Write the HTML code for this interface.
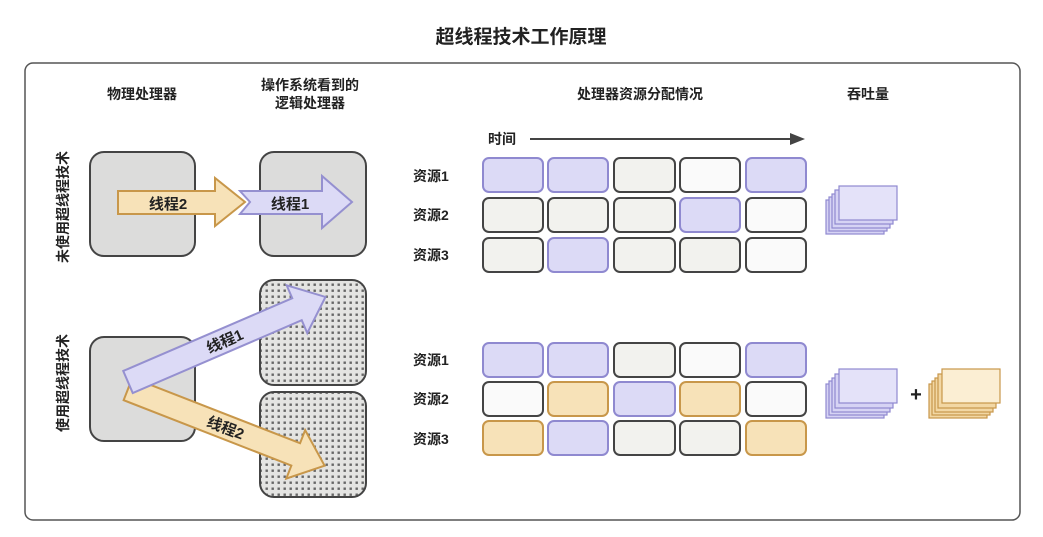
<!DOCTYPE html>
<html><head><meta charset="utf-8"><style>
body{margin:0;background:#fff;}
svg text{font-family:"Liberation Sans","Noto Sans CJK SC",sans-serif;fill:#222;font-weight:bold;}
</style></head><body>
<svg width="1043" height="532" viewBox="0 0 1043 532" xmlns="http://www.w3.org/2000/svg">
<defs>
<pattern id="dots" width="6" height="6" patternUnits="userSpaceOnUse">
<rect width="6" height="6" fill="#e4e4e2"/>
<rect x="1.5" y="1.5" width="2.4" height="2.4" fill="#666"/>
</pattern>
</defs>
<text x="521" y="43" font-size="19" text-anchor="middle">超线程技术工作原理</text>
<rect x="25" y="63" width="995" height="457" rx="8" fill="#fff" stroke="#555" stroke-width="1.5"/>

<text x="142" y="99" font-size="14" text-anchor="middle">物理处理器</text>
<text x="310" y="90" font-size="14" text-anchor="middle">操作系统看到的</text>
<text x="310" y="108" font-size="14" text-anchor="middle">逻辑处理器</text>
<text x="640" y="99" font-size="14" text-anchor="middle">处理器资源分配情况</text>
<text x="868" y="99" font-size="14" text-anchor="middle">吞吐量</text>

<text transform="translate(68,207) rotate(-90)" font-size="14" text-anchor="middle">未使用超线程技术</text>
<text transform="translate(68,383) rotate(-90)" font-size="14" text-anchor="middle">使用超线程技术</text>

<rect x="90" y="152" width="105" height="104" rx="14" fill="#dcdcdb" stroke="#444" stroke-width="2"/>
<rect x="260" y="152" width="106" height="104" rx="14" fill="#dcdcdb" stroke="#444" stroke-width="2"/>
<polygon points="118,191 215,191 215,178 245,202 215,226 215,214 118,214" fill="#f7e2b8" stroke="#c8974a" stroke-width="2"/>
<polygon points="240,191 322,191 322,176 352,202 322,228 322,214 240,214 250,202" fill="#dcdaf6" stroke="#9590d0" stroke-width="2"/>
<text x="168" y="209" font-size="15" text-anchor="middle">线程2</text>
<text x="290" y="209" font-size="15" text-anchor="middle">线程1</text>

<rect x="90" y="337" width="105" height="104" rx="14" fill="#dcdcdb" stroke="#444" stroke-width="2"/>
<rect x="260" y="280" width="106" height="105" rx="14" fill="url(#dots)" stroke="#444" stroke-width="2"/>
<rect x="260" y="392" width="106" height="105" rx="14" fill="url(#dots)" stroke="#444" stroke-width="2"/>
<g transform="translate(128,389) rotate(21.3)">
<polygon points="0,-12 180,-12 180,-26 211,0 180,26 180,12 0,12" fill="#f7e2b8" stroke="#c8974a" stroke-width="2"/>
<text x="105" y="6" font-size="15" text-anchor="middle">线程2</text>
</g>
<g transform="translate(128,382) rotate(-23.3)">
<polygon points="0,-12 184,-12 184,-26 215,0 184,26 184,12 0,12" fill="#dcdaf6" stroke="#9590d0" stroke-width="2"/>
<text x="105" y="6" font-size="15" text-anchor="middle">线程1</text>
</g>

<text x="488" y="144" font-size="14">时间</text>
<line x1="530" y1="139" x2="792" y2="139" stroke="#444" stroke-width="2"/>
<polygon points="790,133 805,139 790,145" fill="#444"/>

<g font-size="14">
<text x="413" y="181">资源1</text><text x="413" y="220">资源2</text><text x="413" y="260">资源3</text>
<text x="413" y="365">资源1</text><text x="413" y="404">资源2</text><text x="413" y="444">资源3</text>
</g>

<g stroke-width="2">
<rect x="483" y="158" width="60" height="34" rx="6" fill="#dcdaf6" stroke="#8f89d0"/>
<rect x="548" y="158" width="60" height="34" rx="6" fill="#dcdaf6" stroke="#8f89d0"/>
<rect x="614" y="158" width="61" height="34" rx="6" fill="#f2f2ee" stroke="#444"/>
<rect x="680" y="158" width="60" height="34" rx="6" fill="#fafafa" stroke="#444"/>
<rect x="746" y="158" width="60" height="34" rx="6" fill="#dcdaf6" stroke="#8f89d0"/>

<rect x="483" y="198" width="60" height="34" rx="6" fill="#f2f2ee" stroke="#444"/>
<rect x="548" y="198" width="60" height="34" rx="6" fill="#f2f2ee" stroke="#444"/>
<rect x="614" y="198" width="61" height="34" rx="6" fill="#f2f2ee" stroke="#444"/>
<rect x="680" y="198" width="60" height="34" rx="6" fill="#dcdaf6" stroke="#8f89d0"/>
<rect x="746" y="198" width="60" height="34" rx="6" fill="#fafafa" stroke="#444"/>

<rect x="483" y="238" width="60" height="34" rx="6" fill="#f2f2ee" stroke="#444"/>
<rect x="548" y="238" width="60" height="34" rx="6" fill="#dcdaf6" stroke="#8f89d0"/>
<rect x="614" y="238" width="61" height="34" rx="6" fill="#f2f2ee" stroke="#444"/>
<rect x="680" y="238" width="60" height="34" rx="6" fill="#f2f2ee" stroke="#444"/>
<rect x="746" y="238" width="60" height="34" rx="6" fill="#fafafa" stroke="#444"/>

<rect x="483" y="343" width="60" height="34" rx="6" fill="#dcdaf6" stroke="#8f89d0"/>
<rect x="548" y="343" width="60" height="34" rx="6" fill="#dcdaf6" stroke="#8f89d0"/>
<rect x="614" y="343" width="61" height="34" rx="6" fill="#f2f2ee" stroke="#444"/>
<rect x="680" y="343" width="60" height="34" rx="6" fill="#fafafa" stroke="#444"/>
<rect x="746" y="343" width="60" height="34" rx="6" fill="#dcdaf6" stroke="#8f89d0"/>

<rect x="483" y="382" width="60" height="34" rx="6" fill="#fafafa" stroke="#444"/>
<rect x="548" y="382" width="60" height="34" rx="6" fill="#f7e2b8" stroke="#c8974a"/>
<rect x="614" y="382" width="61" height="34" rx="6" fill="#dcdaf6" stroke="#8f89d0"/>
<rect x="680" y="382" width="60" height="34" rx="6" fill="#f7e2b8" stroke="#c8974a"/>
<rect x="746" y="382" width="60" height="34" rx="6" fill="#fafafa" stroke="#444"/>

<rect x="483" y="421" width="60" height="34" rx="6" fill="#f7e2b8" stroke="#c8974a"/>
<rect x="548" y="421" width="60" height="34" rx="6" fill="#dcdaf6" stroke="#8f89d0"/>
<rect x="614" y="421" width="61" height="34" rx="6" fill="#f2f2ee" stroke="#444"/>
<rect x="680" y="421" width="60" height="34" rx="6" fill="#f2f2ee" stroke="#444"/>
<rect x="746" y="421" width="60" height="34" rx="6" fill="#f7e2b8" stroke="#c8974a"/>
</g>

<g stroke-width="1.2">
<g fill="#d6d3f4" stroke="#8f89d0">
<rect x="826" y="200" width="58" height="34"/><rect x="829" y="197" width="58" height="34"/><rect x="832" y="194" width="58" height="34"/><rect x="835" y="190" width="58" height="34"/>
<rect x="839" y="186" width="58" height="34" fill="#e4e2f9"/>
<rect x="826" y="384" width="58" height="34"/><rect x="829" y="381" width="58" height="34"/><rect x="832" y="378" width="58" height="34"/><rect x="835" y="374" width="58" height="34"/>
<rect x="839" y="369" width="58" height="34" fill="#e4e2f9"/>
</g>
<g fill="#f2d7a4" stroke="#c8974a">
<rect x="929" y="384" width="58" height="34"/><rect x="932" y="381" width="58" height="34"/><rect x="935" y="378" width="58" height="34"/><rect x="938" y="374" width="58" height="34"/>
<rect x="942" y="369" width="58" height="34" fill="#fbeed3"/>
</g>
</g>
<text x="916" y="401" font-size="20" text-anchor="middle">+</text>
</svg>
</body></html>
